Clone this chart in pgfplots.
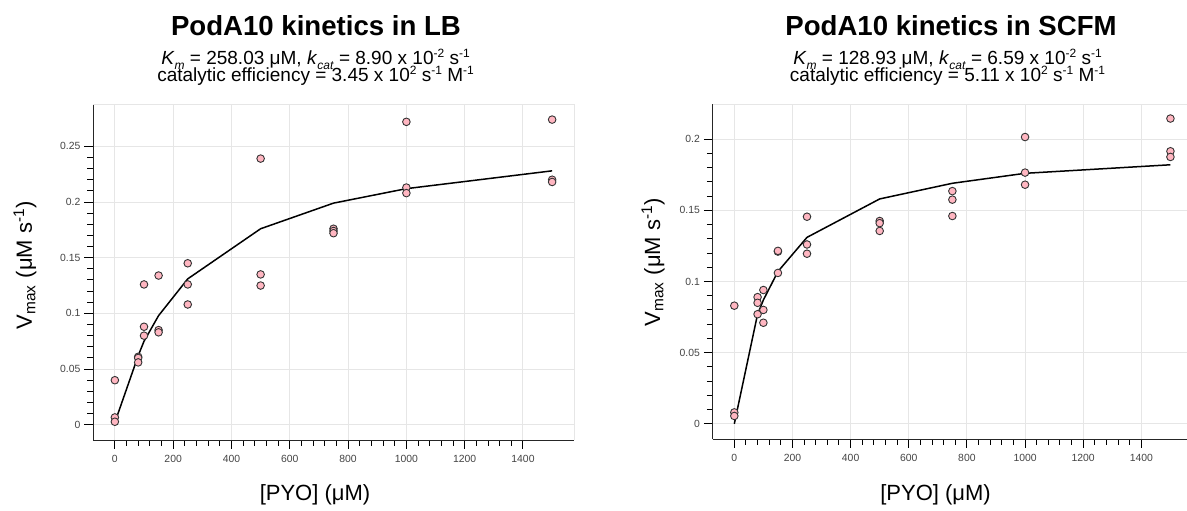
\documentclass[border=0pt]{standalone}
\usepackage{fontspec}
\setmainfont{Liberation Sans}
\usepackage{pgfplots}
\pgfplotsset{compat=1.18}
\definecolor{PinkFill}{HTML}{FFB6C1}
\definecolor{GridGray}{HTML}{E6E6E6}
\definecolor{TickText}{HTML}{444444}

\newcommand\up[1]{\raisebox{0.36em}{\fontsize{6}{6}\selectfont #1}}
\newcommand\dn[1]{\raisebox{-0.28em}{\fontsize{6}{6}\selectfont #1}}

\pgfplotsset{
  kinetics/.style={
    scale only axis,
    axis x line*=bottom,
    axis y line*=left,
    axis line style={-, draw=black!85, line width=0.5pt},
    xtick align=outside, ytick align=outside,
    tick style={black, line width=0.5pt},
    minor x tick num=4,
    minor y tick num=4,
    xmajorgrids, ymajorgrids,
    grid style={GridGray, line width=0.5pt},
    xmin=-75,
    xtick={0,200,400,600,800,1000,1200,1400},
    scaled y ticks=false,
    /pgf/number format/assume math mode=true,
    /pgf/number format/1000 sep={},
    ticklabel style={font=\fontsize{5.2}{6}\selectfont, text=TickText},
    yticklabel style={/pgf/number format/fixed, /pgf/number format/precision=2, xshift=1.5pt},
    clip=false,
  },
  pts/.style={only marks, mark=*, mark size=1.9pt,
    mark options={fill=PinkFill, draw=black!80, line width=0.45pt}},
  fit/.style={black, line width=0.75pt, no marks},
}
\tikzset{subt/.style={anchor=base, align=center, inner sep=0pt,
    font={\fontsize{9.5}{8.5}\selectfont\lineskiplimit=-100pt}}}

\begin{document}
\begin{tikzpicture}
\useasboundingbox (0,0) rectangle (593.5pt,-255pt);

% ---- left: LB
\begin{axis}[kinetics,
  at={(46.5pt,-220pt)}, anchor=south west,
  width=240.5pt, height=168pt,
  xmax=1575, ymin=-0.0137, ymax=0.288,
  ytick={0,0.05,0.1,0.15,0.2,0.25},
]
\addplot[pts] coordinates {
  (0,0.040) (0,0.0066) (0,0.0027)
  (80,0.061) (80,0.060) (80,0.056)
  (100,0.126) (100,0.088) (100,0.080)
  (150,0.134) (150,0.085) (150,0.083)
  (250,0.145) (250,0.126) (250,0.108)
  (500,0.239) (500,0.135) (500,0.125)
  (750,0.176) (750,0.174) (750,0.172)
  (1000,0.272) (1000,0.213) (1000,0.208)
  (1500,0.274) (1500,0.220) (1500,0.218)};
\addplot[fit] coordinates {
  (0,0.002) (80,0.062) (100,0.075) (150,0.098) (250,0.131)
  (500,0.176) (750,0.199) (1000,0.212) (1500,0.228)};
\draw[GridGray, line width=0.5pt] (rel axis cs:0,1) -- (rel axis cs:1,1) -- (rel axis cs:1,0);
\end{axis}

% ---- right: SCFM
\begin{axis}[kinetics,
  at={(356.25pt,-219.5pt)}, anchor=south west,
  width=237.25pt, height=167.5pt,
  xmax=1557, ymin=-0.0107, ymax=0.2247,
  ytick={0,0.05,0.1,0.15,0.2},
]
\addplot[pts] coordinates {
  (0,0.083) (0,0.008) (0,0.0055)
  (80,0.089) (80,0.085) (80,0.077)
  (100,0.094) (100,0.080) (100,0.071)
  (150,0.121) (150,0.1215) (150,0.106)
  (250,0.1455) (250,0.126) (250,0.1195)
  (500,0.1425) (500,0.141) (500,0.1355)
  (750,0.1635) (750,0.1575) (750,0.146)
  (1000,0.2015) (1000,0.1765) (1000,0.168)
  (1500,0.2145) (1500,0.1915) (1500,0.1875)};
\addplot[fit] coordinates {
  (0,0) (80,0.077) (100,0.087) (150,0.107) (250,0.131)
  (500,0.158) (750,0.169) (1000,0.176) (1500,0.182)};
\draw[GridGray, line width=0.5pt] (rel axis cs:0,1) -- (rel axis cs:1,1) -- (rel axis cs:1,0);
\end{axis}

% titles and labels
\node[anchor=base, font=\bfseries\fontsize{13.8}{16}\selectfont] at (158pt,-17.5pt) {PodA10 kinetics in LB};
\node[subt] at (157.75pt,-40.5pt)
  {\textit{K}\dn{\textit{m}} = 258.03 μM, \textit{k}\dn{\textit{cat}} = 8.90 x 10\up{-2} s\up{-1}\\
   catalytic efficiency = 3.45 x 10\up{2} s\up{-1} M\up{-1}};

\node[anchor=base, font=\bfseries\fontsize{13.8}{16}\selectfont] at (475.5pt,-17.5pt) {PodA10 kinetics in SCFM};
\node[subt] at (473.75pt,-40.5pt)
  {\textit{K}\dn{\textit{m}} = 128.93 μM, \textit{k}\dn{\textit{cat}} = 6.59 x 10\up{-2} s\up{-1}\\
   catalytic efficiency = 5.11 x 10\up{2} s\up{-1} M\up{-1}};

\node[font=\fontsize{11}{13}\selectfont] at (157.5pt,-247.5pt) {[PYO] (μM)};
\node[font=\fontsize{11}{13}\selectfont] at (467.75pt,-247.5pt) {[PYO] (μM)};
\node[rotate=90, font=\fontsize{11}{13}\selectfont] at (12.5pt,-132.5pt) {V\textsubscript{max} (μM s\textsuperscript{-1})};
\node[rotate=90, font=\fontsize{11}{13}\selectfont] at (326.5pt,-131pt) {V\textsubscript{max} (μM s\textsuperscript{-1})};
\end{tikzpicture}
\end{document}
